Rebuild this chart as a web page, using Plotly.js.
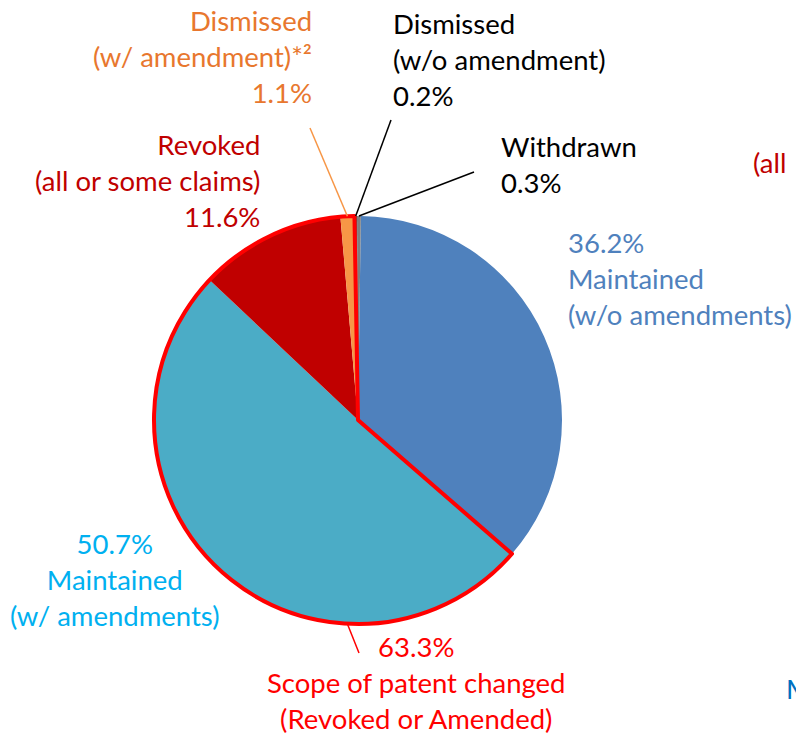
<!DOCTYPE html>
<html>
<head>
<meta charset="utf-8">
<script src="https://cdn.plot.ly/plotly-3.0.1.min.js"></script>
<style>html,body{margin:0;padding:0;background:#fff;}#chart{width:796px;height:733px;}</style>
</head>
<body>
<div id="chart"></div>
<script>
// ---- data ----
const categories = ['Maintained (w/o amendments)', 'Maintained (w/ amendments)', 'Revoked (all or some claims)', 'Dismissed (w/ amendment)*²', 'Dismissed (w/o amendment)', 'Withdrawn'];
const shares = [36.2, 50.7, 11.6, 1.1, 0.2, 0.3];
const changedLabel = 'Scope of patent changed<br>(Revoked or Amended)';
const changedShare = 63.3;
const labelLines = [
  ['Maintained', '(w/o amendments)'],
  ['Maintained', '(w/ amendments)'],
  ['Revoked', '(all or some claims)'],
  ['Dismissed', '(w/ amendment)*²'],
  ['Dismissed', '(w/o amendment)'],
  ['Withdrawn']
];
const edgeFragments = ['(all', 'M'];

// ---- style / layout ----
const W = 796, H = 733;
const CX = 358, CY = 420, R = 204;
const ROT = 0.8;
const sliceColors = ['#4F81BD', '#4BACC6', '#C00000', '#F79646', '#595959', '#7F7F7F'];
const FONT = 'Lato, "Open Sans", sans-serif';
const FS = 27.5;

const domain = { x: [(CX - R) / W, (CX + R) / W], y: [(H - CY - R) / H, (H - CY + R) / H] };
const px = v => v / W;
const py = v => 1 - v / H;
const total = shares.reduce((a, b) => a + b, 0);
function midAngle(i) {
  let c = 0; for (let k = 0; k < i; k++) c += shares[k];
  return ROT + (c + shares[i] / 2) / total * 360;
}
function edge(angleDeg) {
  const a = angleDeg * Math.PI / 180;
  return { x: px(CX + R * Math.sin(a)), y: py(CY - R * Math.cos(a)) };
}

const pieMain = {
  type: 'pie', values: shares, labels: categories, sort: false, direction: 'clockwise', rotation: ROT,
  marker: { colors: sliceColors, line: { width: 0 } }, textinfo: 'none', hoverinfo: 'none', domain: domain
};
const outlineVals = [shares[0], shares[1] + shares[2] + shares[3], shares[4] + shares[5]];
const pieOutline = {
  type: 'pie', values: outlineVals, labels: ['a', 'b', 'c'], sort: false, direction: 'clockwise', rotation: ROT,
  marker: { colors: ['rgba(0,0,0,0)', 'rgba(0,0,0,0)', 'rgba(0,0,0,0)'],
            line: { color: ['rgba(0,0,0,0)', '#FF0000', 'rgba(0,0,0,0)'], width: [0, 4, 0] } },
  textinfo: 'none', hoverinfo: 'none', domain: domain
};

const pct = v => v.toFixed(1) + '%';
function ann(text, x, y, xanchor, color) {
  return { text: text, x: px(x), y: py(y), xref: 'paper', yref: 'paper', xanchor: xanchor, yanchor: 'middle',
           align: xanchor === 'left' ? 'left' : (xanchor === 'right' ? 'right' : 'center'),
           showarrow: false, font: { family: FONT, size: FS, color: color } };
}
const annotations = [
  ann(pct(shares[0]) + '<br>' + labelLines[0].join('<br>'), 566, 278, 'left', '#4F81BD'),
  ann(pct(shares[1]) + '<br>' + labelLines[1].join('<br>'), 115, 579, 'center', '#00B0F0'),
  ann(labelLines[2].join('<br>') + '<br>' + pct(shares[2]), 262, 181, 'right', '#C00000'),
  ann(labelLines[3].join('<br>') + '<br>' + pct(shares[3]), 314, 57, 'right', '#E8772E'),
  ann(labelLines[4].join('<br>') + '<br>' + pct(shares[4]), 391, 60, 'left', '#000000'),
  ann(labelLines[5].join('<br>') + '<br>' + pct(shares[5]), 499, 164, 'left', '#000000'),
  ann(pct(changedShare) + '<br>' + changedLabel, 416, 682, 'center', '#FF0000'),
  ann(edgeFragments[0], 751, 163, 'left', '#C00000'),
  ann(edgeFragments[1], 784, 688, 'left', '#0070C0')
];

function leader(from, toX, toY, color, width) {
  return { type: 'line', xref: 'paper', yref: 'paper', x0: from.x, y0: from.y, x1: px(toX), y1: py(toY),
           line: { color: color, width: width }, layer: 'above' };
}
const shapes = [
  leader(edge(midAngle(3)), 310, 128, '#F79646', 1.5),
  leader(edge(midAngle(4)), 391, 120, '#000000', 1.5),
  leader(edge(midAngle(5)), 474, 172, '#000000', 1.5),
  leader(edge(183), 359, 653, '#FF0000', 1.5)
];

const layout = {
  width: W, height: H, margin: { l: 0, r: 0, t: 0, b: 0 }, showlegend: false,
  paper_bgcolor: '#ffffff', plot_bgcolor: '#ffffff',
  annotations: annotations, shapes: shapes
};
Plotly.newPlot('chart', [pieMain, pieOutline], layout, { displayModeBar: false, staticPlot: true });
</script>
</body>
</html>
